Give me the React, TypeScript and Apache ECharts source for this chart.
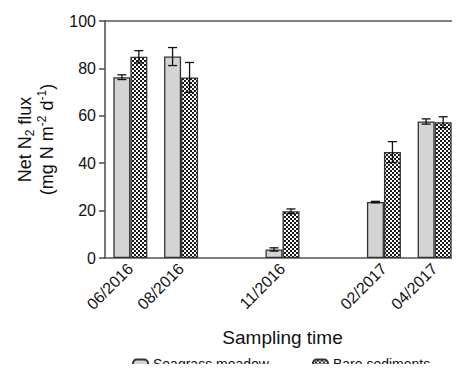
import React, { useEffect, useRef } from "react";
import * as echarts from "echarts";

const categories = ["06/2016", "08/2016", "", "11/2016", "", "02/2017", "04/2017"];
const seagrass = [76.3, 85.0, null, 3.6, null, 23.6, 57.6];
const seagrassErr = [1.0, 3.8, null, 0.7, null, 0.3, 1.1];
const bare = [84.9, 76.2, null, 19.7, null, 44.7, 57.3];
const bareErr = [2.6, 6.3, null, 1.0, null, 4.4, 2.3];
const yTicks = { min: 0, max: 100, interval: 20 };

const BAR_W = 17;
const FONT = "'Liberation Sans', Arial, sans-serif";

const checker =
  "data:image/svg+xml;charset=utf-8," +
  encodeURIComponent(
    "<svg xmlns='http://www.w3.org/2000/svg' width='4' height='4'><rect width='4' height='4' fill='#ffffff'/><rect width='2' height='2' fill='#1a1a1a'/><rect x='2' y='2' width='2' height='2' fill='#1a1a1a'/></svg>"
  );

function errData(vals: (number | null)[], errs: (number | null)[]) {
  const out: number[][] = [];
  vals.forEach((v, i) => {
    if (v != null && errs[i] != null) out.push([i, v, errs[i] as number]);
  });
  return out;
}

function errSeries(vals: (number | null)[], errs: (number | null)[], offset: number) {
  return {
    type: "custom",
    silent: true,
    z: 5,
    data: errData(vals, errs),
    encode: { x: 0, y: 1 },
    renderItem: (params: any, api: any) => {
      const i = api.value(0);
      const v = api.value(1);
      const e = api.value(2);
      const hi = api.coord([i, v + e]);
      const lo = api.coord([i, v - e]);
      const x = hi[0] + offset;
      const cap = 4.5;
      const style = { stroke: "#111", lineWidth: 1.3 };
      return {
        type: "group",
        children: [
          { type: "line", shape: { x1: x, y1: hi[1], x2: x, y2: lo[1] }, style },
          { type: "line", shape: { x1: x - cap, y1: hi[1], x2: x + cap, y2: hi[1] }, style },
          { type: "line", shape: { x1: x - cap, y1: lo[1], x2: x + cap, y2: lo[1] }, style },
        ],
      };
    },
  };
}

export default function App() {
  const ref = useRef<HTMLDivElement>(null);
  useEffect(() => {
    if (!ref.current) return;
    const chart = echarts.init(ref.current, null, { renderer: "svg" });
    const axisColor = "#555";
    chart.setOption({
      animation: false,
      textStyle: { fontFamily: FONT },
      grid: { left: 105, top: 21, width: 356, bottom: 114 },
      legend: {
        data: ["Seagrass meadow", "Bare sediments"],
        left: 132,
        top: 357,
        padding: 0,
        itemWidth: 15,
        itemHeight: 18,
        itemGap: 43,
        formatter: "{t|{name}}",
        textStyle: {
          fontFamily: FONT,
          fontSize: 14,
          color: "#111",
          rich: {
            t: { fontFamily: FONT, fontSize: 14, color: "#111", padding: [0, 0, 9, 0] },
          },
        },
      },
      xAxis: [
        {
          type: "category",
          data: categories,
          position: "bottom",
          axisLine: { lineStyle: { color: axisColor, width: 1.6 } },
          axisTick: { show: false },
          axisLabel: {
            rotate: 45,
            interval: 0,
            margin: 8,
            fontSize: 16,
            color: "#111",
            fontFamily: FONT,
          },
          name: "Sampling time",
          nameLocation: "middle",
          nameGap: 70,
          nameTextStyle: { fontSize: 19, color: "#111", fontFamily: FONT },
        },
        {
          type: "category",
          data: categories,
          position: "top",
          axisLine: { lineStyle: { color: axisColor, width: 1.6 } },
          axisTick: { show: false },
          axisLabel: { show: false },
        },
      ],
      yAxis: {
        type: "value",
        min: yTicks.min,
        max: yTicks.max,
        interval: yTicks.interval,
        splitLine: { show: false },
        axisLine: { show: true, lineStyle: { color: axisColor, width: 1.6 } },
        axisTick: { show: true, length: 6, lineStyle: { color: axisColor, width: 1.6 } },
        axisLabel: { fontSize: 16, color: "#111", margin: 9, fontFamily: FONT },
        name: "{a|Net N}{sub|2}{a| flux}\n{a|(mg N m}{sup|-2}{a| d}{sup|-1}{a|)}",
        nameLocation: "middle",
        nameRotate: 90,
        nameGap: 38,
        nameTextStyle: {
          color: "#111",
          fontFamily: FONT,
          lineHeight: 22,
          rich: {
            a: { fontSize: 18, fontFamily: FONT, color: "#111", lineHeight: 22 },
            sub: { fontSize: 12, fontFamily: FONT, color: "#111", verticalAlign: "bottom", lineHeight: 22 },
            sup: { fontSize: 12, fontFamily: FONT, color: "#111", verticalAlign: "top", lineHeight: 22 },
          },
        },
      },
      series: [
        {
          name: "Seagrass meadow",
          type: "bar",
          data: seagrass,
          barWidth: BAR_W,
          barGap: "0%",
          itemStyle: { color: "#d4d4d4", borderColor: "#333", borderWidth: 1.3 },
        },
        {
          name: "Bare sediments",
          type: "bar",
          data: bare,
          barWidth: BAR_W,
          barGap: "0%",
          itemStyle: {
            color: { image: checker, repeat: "repeat", imageWidth: 4, imageHeight: 4 },
            borderColor: "#333",
            borderWidth: 1.3,
          },
        },
        errSeries(seagrass, seagrassErr, -BAR_W / 2),
        errSeries(bare, bareErr, BAR_W / 2),
      ],
    });
    return () => chart.dispose();
  }, []);
  return <div ref={ref} style={{ width: 460, height: 372, margin: -8 }} />;
}
